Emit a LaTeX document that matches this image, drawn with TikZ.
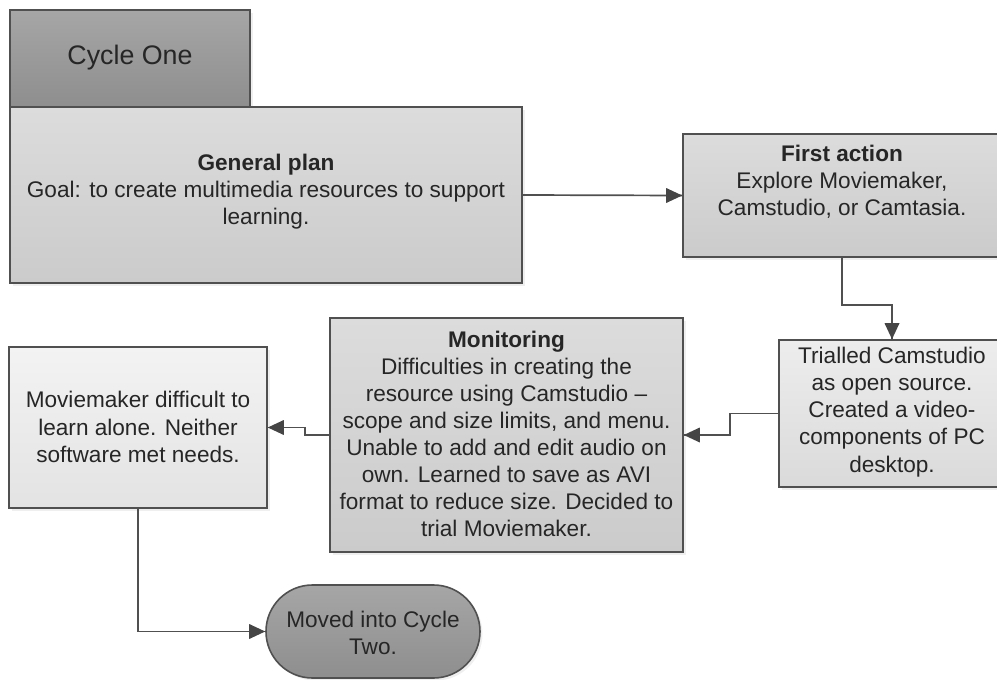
\documentclass[tikz,border=0pt]{standalone}
\usepackage{fontspec}
\setmainfont{Liberation Sans}
\usetikzlibrary{shadows}
\definecolor{edgec}{HTML}{505050}
\definecolor{tipc}{HTML}{454545}
\definecolor{txtc}{HTML}{262626}
\definecolor{darkT}{HTML}{A6A6A6}
\definecolor{darkB}{HTML}{8E8E8E}
\definecolor{midT}{HTML}{DCDCDC}
\definecolor{midB}{HTML}{CBCBCB}
\definecolor{litT}{HTML}{EDEDED}
\definecolor{litB}{HTML}{DADADA}
\definecolor{palT}{HTML}{F3F3F3}
\definecolor{palB}{HTML}{E3E3E3}
\newcommand\tipright[1]{\fill[tipc] (#1) -- ++(-16,7.5) -- ++(0,-15) -- cycle;}
\newcommand\tipleft[1]{\fill[tipc] (#1) -- ++(16,7.5) -- ++(0,-15) -- cycle;}
\newcommand\tipdown[1]{\fill[tipc] (#1) -- ++(-7.5,16) -- ++(15,0) -- cycle;}
\begin{document}
\begin{tikzpicture}[x=1pt,y=1pt,
  box/.style={draw=edgec, line width=1.6pt, rectangle, inner sep=0pt,
    drop shadow={shadow xshift=2.5pt,shadow yshift=-2.5pt,fill=black!12}},
  dark/.style={top color=darkT, bottom color=darkB},
  mid/.style={top color=midT, bottom color=midB},
  lit/.style={top color=litT, bottom color=litB},
  pal/.style={top color=palT, bottom color=palB},
  txt/.style={align=center, text=txtc, inner sep=0pt, font=\fontsize{22.6}{27.1}\selectfont},
  conn/.style={draw=edgec, line width=1.7pt}]
\useasboundingbox (0,0) rectangle (997,-680);
% boxes
\node[box, dark, minimum width=240pt, minimum height=97pt] (cyc) at (130,-58.5) {};
\node[box, mid, minimum width=512pt, minimum height=176pt] (gp) at (266,-195) {};
\node[box, mid, minimum width=318pt, minimum height=123pt] (fa) at (842,-195.5) {};
\node[box, lit, minimum width=226pt, minimum height=147pt] (tr) at (892,-413.5) {};
\node[box, mid, minimum width=353pt, minimum height=234pt] (mon) at (506.5,-435) {};
\node[box, pal, minimum width=258pt, minimum height=161pt] (mm) at (138,-427.5) {};
\node[box, dark, rounded corners=46.5pt, minimum width=214pt, minimum height=93pt] (term) at (373,-631.5) {};
% texts
\node[txt, font=\fontsize{26.8}{32}\selectfont] (cyct) at (130,-58) {Cycle One};
\node[txt] (gpt) at (266,-192) {\textbf{General plan}\\Goal: to create multimedia resources to support\\learning.};
\node[txt] (fat) at (842,-182) {\textbf{First action}\\Explore Moviemaker,\\Camstudio, or Camtasia.};
\node[txt] (trt) at (892,-412) {Trialled Camstudio\\as open source.\\Created a video-\\components of PC\\desktop.};
\node[txt] (mont) at (506.5,-434) {\textbf{Monitoring}\\Difficulties in creating the\\resource using Camstudio --\\scope and size limits, and menu.\\Unable to add and edit audio on\\own. Learned to save as AVI\\format to reduce size. Decided to\\trial Moviemaker.};
\node[txt] (mmt) at (138,-427) {Moviemaker difficult to\\learn alone. Neither\\software met needs.};
\node[txt] (termt) at (373,-633) {Moved into Cycle\\Two.};
% connectors
\draw[conn] (gp.east) -- (fa.west);
\tipright{fa.west}
\draw[conn] (fa.south) -- ++(0,-47) -| (tr.north);
\tipdown{tr.north}
\draw[conn] (tr.west) -- ++(-48,0) |- (mon.east);
\tipleft{mon.east}
\draw[conn] (mon.west) -- ++(-24,0) |- (mm.east);
\tipleft{mm.east}
\draw[conn] (mm.south) |- (term.west);
\tipright{term.west}
\end{tikzpicture}
\end{document}
